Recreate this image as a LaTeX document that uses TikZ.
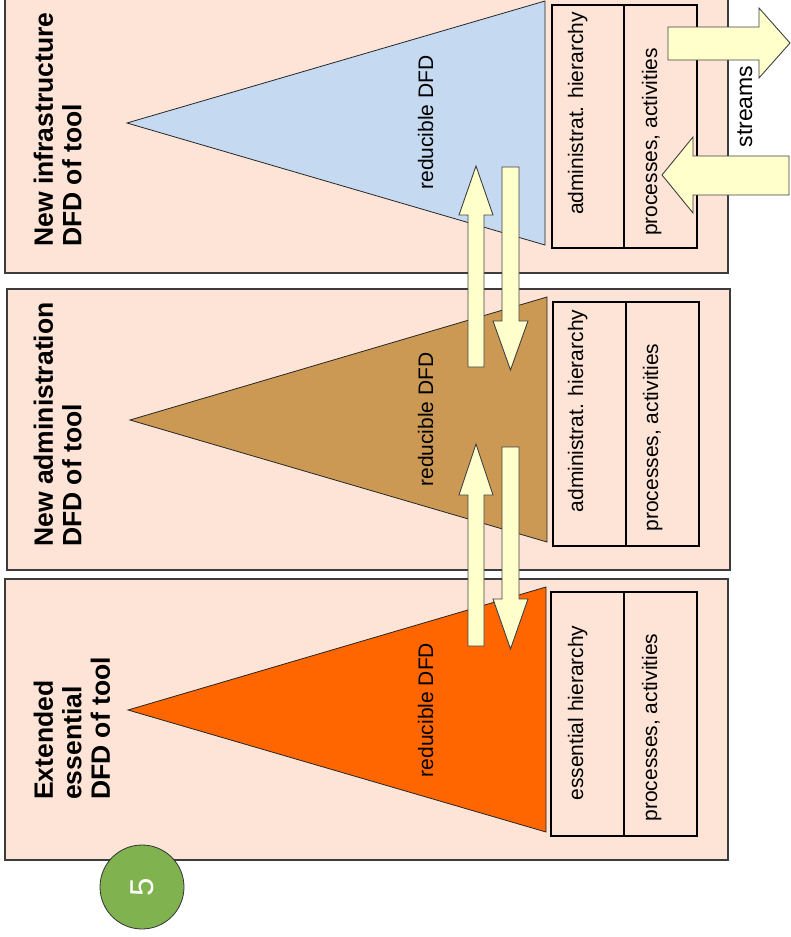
\documentclass[tikz,border=0pt]{standalone}
\usepackage{fontspec}
\setmainfont{Liberation Sans}
\definecolor{panelfill}{HTML}{FDE4D6}
\definecolor{panelline}{HTML}{3C3C3C}
\definecolor{infrablue}{HTML}{C5D9F1}
\definecolor{adminbrown}{HTML}{CC9955}
\definecolor{essorange}{HTML}{FF6600}
\definecolor{arrowfill}{HTML}{FFFFCC}
\definecolor{badgegreen}{HTML}{80B350}
\begin{document}
\begin{tikzpicture}[x=1pt,y=-1pt,
  panel/.style={fill=panelfill, draw=panelline, line width=1.2pt},
  pyramid/.style={draw=black!85, line width=0.8pt},
  colbox/.style={draw=black, line width=2pt, fill=panelfill},
  flow/.style={fill=arrowfill, draw=black!75, line width=0.9pt, line join=miter},
  lbl/.style={rotate=90, inner sep=0pt, anchor=base, font=\fontsize{21}{25}\selectfont},
  title/.style={rotate=90, inner sep=0pt, anchor=north west, align=left,
    font=\fontsize{26.5}{28.5}\selectfont\bfseries},
  badge/.style={circle, fill=badgegreen, draw=black!80, line width=0.8pt,
    minimum size=84pt, inner sep=0pt},
]
\useasboundingbox (0,0) rectangle (790,937);

% ---- three level panels ----
\draw[panel] (5,-10) rectangle (728,273);
\draw[panel] (7,289) rectangle (730,570);
\draw[panel] (5,579) rectangle (728,860);

% ---- DFD pyramids ----
\draw[pyramid, fill=infrablue]  (127,123) -- (545,1)   -- (545,245) -- cycle;
\draw[pyramid, fill=adminbrown] (130,420) -- (547,297) -- (547,542) -- cycle;
\draw[pyramid, fill=essorange]  (128,710) -- (546,587) -- (546,832) -- cycle;

% ---- two-column boxes ----
\draw[colbox] (552,5) rectangle (697,248);   \draw[colbox] (624,5) -- (624,248);
\draw[colbox] (553,302) rectangle (699,546); \draw[colbox] (626,302) -- (626,546);
\draw[colbox] (551,592) rectangle (697,836); \draw[colbox] (624,592) -- (624,836);

% ---- titles ----
\node[title] (t1) at (33.5,247) {New infrastructure\\DFD of tool};
\node[title] (t2) at (33.5,547) {New administration\\DFD of tool};
\node[title] (t3) at (33.5,800) {Extended\\essential\\DFD of tool};

% ---- pyramid labels ----
\node[lbl] (r1) at (433,122.5) {reducible DFD};
\node[lbl] (r2) at (433,419.5) {reducible DFD};
\node[lbl] (r3) at (433,710)   {reducible DFD};

% ---- column labels ----
\node[lbl] (h1) at (583,113.5) {administrat. hierarchy};
\node[lbl] (p1) at (657,142)   {processes, activities};
\node[lbl] (h2) at (583,411)   {administrat. hierarchy};
\node[lbl] (p2) at (658,437.5) {processes, activities};
\node[lbl] (h3) at (583,713)   {essential hierarchy};
\node[lbl] (p3) at (657,727.5) {processes, activities};

% ---- vertical exchange arrows between levels ----
\draw[flow] (468,367) -- (468,215) -- (459,215) -- (476,166) -- (493,215) -- (484,215) -- (484,367) -- cycle;
\draw[flow] (502,167) -- (502,321) -- (493,321) -- (510.5,370) -- (528,321) -- (519,321) -- (519,167) -- cycle;
\draw[flow] (468,646) -- (468,495) -- (459,495) -- (476,444) -- (493,495) -- (484,495) -- (484,646) -- cycle;
\draw[flow] (502,447) -- (502,599) -- (493,599) -- (510.5,649) -- (528,599) -- (519,599) -- (519,447) -- cycle;

% ---- streams in and out ----
\draw[flow] (668,27) -- (759,27) -- (759,8) -- (790,43) -- (759,78) -- (759,60) -- (668,60) -- cycle;
\draw[flow] (789,156) -- (693,156) -- (693,137) -- (662,175) -- (693,213) -- (693,195) -- (789,195) -- cycle;
\node[lbl, font=\fontsize{23}{27}\selectfont] (streams) at (752,106.5) {streams};

% ---- page badge ----
\node[badge] (badge) at (142,887) {};
\node[rotate=90, text=white, inner sep=0pt, font=\fontsize{33}{37}\selectfont] (num) at (badge.center) {5};
\end{tikzpicture}
\end{document}
